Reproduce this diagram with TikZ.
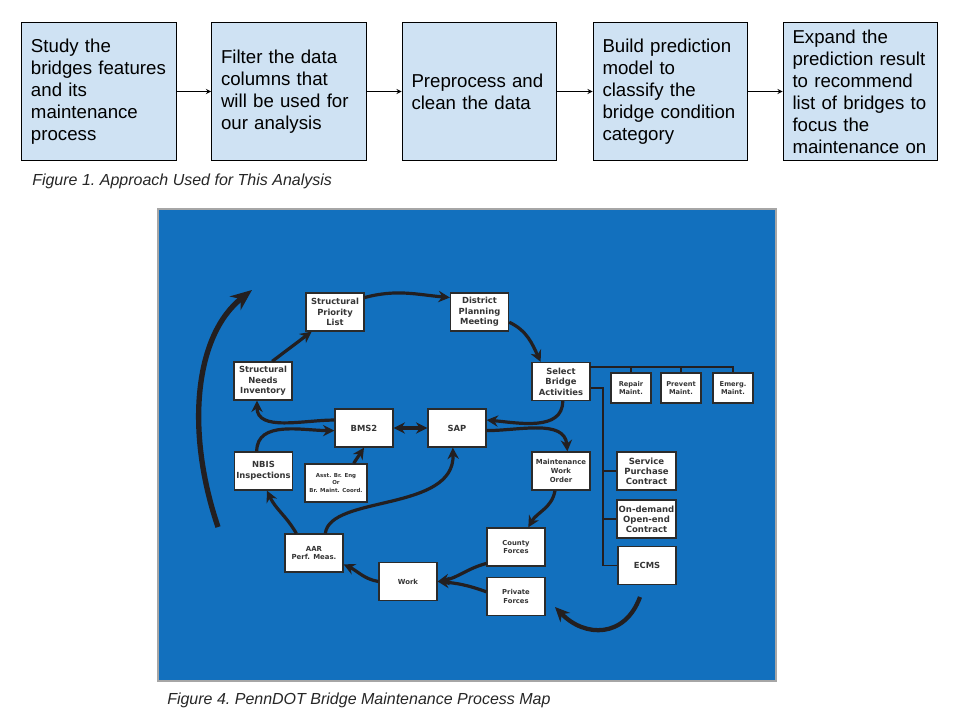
\documentclass[tikz,border=0pt]{standalone}
\usepackage{fontspec}
\setmainfont{Liberation Sans}
\newfontfamily\mapfont{DejaVu Sans}
\usepackage{tikz}
\usetikzlibrary{shapes.geometric, arrows, arrows.meta}
\definecolor{stageblue}{HTML}{CFE2F3}
\definecolor{panelblue}{HTML}{1270BE}
\definecolor{arrowink}{HTML}{231F20}
\definecolor{boxline}{HTML}{2B2B2B}
\definecolor{boxtext}{HTML}{353535}
\newcommand{\mapsize}[2]{\mapfont\bfseries\fontsize{#1}{#2}\selectfont}
\newcommand{\stagefont}{\fontsize{14}{16.5}\selectfont\hyphenpenalty=10000\relax}
\tikzstyle{stage} = [rectangle, draw=black, fill=stageblue, line width=0.8pt, minimum width=116pt, minimum height=103pt, text width=102pt, inner sep=0pt, align=left, font=\stagefont]
\tikzstyle{caption} = [anchor=west, inner sep=0pt, text=black!85, font=\itshape\fontsize{12}{14}\selectfont\frenchspacing]
\tikzstyle{mapbox} = [rectangle, draw=boxline, fill=white, line width=1pt, minimum width=43.5pt, minimum height=28.5pt, inner sep=1pt, align=center, text=boxtext, font=\mapsize{6.3}{7.9}]
\tikzstyle{smallbox} = [mapbox, minimum width=30pt, minimum height=22.5pt, font=\mapsize{5}{6.2}]
\tikzstyle{arrow} = [line width=0.75pt, ->, >=stealth]
\tikzstyle{flow} = [line width=2.4pt, draw=arrowink, ->, >={Stealth[length=8.5pt, width=8.5pt]}]
\tikzstyle{bigarrow} = [line width=4pt, draw=arrowink, ->, >={Stealth[length=16pt, width=13pt]}]
\tikzstyle{branch} = [line width=1.1pt, draw=arrowink]

\begin{document}
\begin{tikzpicture}[x=0.75pt, y=-0.75pt]
    \useasboundingbox (0,0) rectangle (960,720);
    % approach
    \node (study) [stage] at (99,91.5) {Study the\\bridges features\\and its\\maintenance\\process};
    \node (filter) [stage] at (289,91.5) {Filter the data\\columns that\\will be used for\\our analysis};
    \node (prep) [stage] at (479.5,91.5) {Preprocess and\\clean the data};
    \node (model) [stage] at (670.5,91.5) {Build prediction\\model to\\classify the\\bridge condition\\category};
    \node (expand) [stage] at (860.5,91.5) {Expand the\\prediction result\\to recommend\\list of bridges to\\focus the\\maintenance on};
    \draw [arrow] (study) -- (filter);
    \draw [arrow] (filter) -- (prep);
    \draw [arrow] (prep) -- (model);
    \draw [arrow] (model) -- (expand);
    \node (fig1) [caption] at (32,181) {Figure 1. Approach Used for This Analysis};

    % process map
    \draw [fill=panelblue, draw=gray!70, line width=0.8pt] (158,209) rectangle (776,681);
    \node (spl) [mapbox] at (335,312) {Structural\\Priority\\List};
    \node (dpm) [mapbox] at (479.5,312) {District\\Planning\\Meeting};
    \node (sni) [mapbox] at (263,381) {Structural\\Needs\\Inventory};
    \node (sba) [mapbox] at (561,381.5) {Select\\Bridge\\Activities};
    \node (rep) [smallbox] at (631,388) {Repair\\Maint.};
    \node (prev) [smallbox] at (681,388) {Prevent\\Maint.};
    \node (emer) [smallbox] at (733,388) {Emerg.\\Maint.};
    \node (bms) [mapbox] at (364,428) {BMS2};
    \node (sap) [mapbox] at (457,428) {SAP};
    \node (nbis) [mapbox] at (263.5,471) {NBIS\\Inspections};
    \node (asst) [mapbox, minimum width=46.5pt, font=\mapsize{4.1}{5.4}] at (336,483) {Asst. Br. Eng\\Or\\Br. Maint. Coord.};
    \node (mwo) [mapbox, font=\mapsize{5.2}{6.5}] at (561,471) {Maintenance\\Work\\Order};
    \node (spc) [mapbox, minimum width=44.25pt, font=\mapsize{6.4}{7.6}] at (646.5,471) {Service\\Purchase\\Contract};
    \node (ode) [mapbox, minimum width=44.25pt, font=\mapsize{6.4}{7.6}] at (646.5,519) {On-demand\\Open-end\\Contract};
    \node (ecms) [mapbox] at (647,565.5) {ECMS};
    \node (cty) [mapbox, font=\mapsize{5.1}{6.4}] at (516,547) {County\\Forces};
    \node (prv) [mapbox, font=\mapsize{5.1}{6.4}] at (516,596.5) {Private\\Forces};
    \node (aar) [mapbox, font=\mapsize{5.2}{6.4}] at (314,553) {AAR\\Perf. Meas.};
    \node (work) [mapbox, font=\mapsize{5.2}{6.4}] at (408,581.5) {Work};

    % activity branches
    \coordinate (bus) at (590,367);
    \coordinate (spine) at (603,388);
    \draw [branch] (bus) -| (emer.north);
    \draw [branch] (rep.north) -- (rep.north |- bus);
    \draw [branch] (prev.north) -- (prev.north |- bus);
    \draw [branch] (sba.east |- spine) -- (spine) -- (spine |- ecms.west) -- (ecms.west);
    \draw [branch] (spine |- spc.west) -- (spc.west);
    \draw [branch] (spine |- ode.west) -- (ode.west);

    % cycle
    \draw [flow] (sni.65) -- (spl.-140);
    \draw [flow] (spl.26) to[out=15,in=175] (dpm.154);
    \draw [flow] (dpm.-19) to[out=-25,in=115] (sba.136);
    \draw [flow] (sba.-85) to[out=-90,in=-5] (sap.15);
    \draw [flow] (sap.-5) to[out=0,in=95] (mwo.72);
    \draw [flow] (mwo.-107) to[out=-100,in=60] (cty.58);
    \draw [flow] (cty.-151) to[out=195,in=10] (work.east);
    \draw [flow] (prv.171) to[out=160,in=-5] (work.east);
    \draw [flow] (work.west) to[out=170,in=-25] (aar.-21);
    \draw [flow] (aar.132) to[out=120,in=-65] (nbis.-80);
    \draw [flow] (aar.60) .. controls (330,495) and (455,512) .. (sap.-102);
    \draw [flow] (nbis.109) to[out=90,in=180] (bms.-175);
    \draw [flow] (bms.165) to[out=180,in=-90] (sni.-107);
    \draw [flow, <->] (bms) -- (sap);
    \draw [flow] (asst.48) -- (bms.south);

    % outer loop arrows
    \coordinate (loopstart) at (218,527);
    \coordinate (loopend) at (252,290);
    \draw [bigarrow] (loopstart) .. controls (185,430) and (195,335) .. (loopend);
    \coordinate (ecmsstart) at (640,597);
    \coordinate (ecmsend) at (555,607);
    \draw [flow, line width=3.2pt, >={Stealth[length=11pt, width=10pt]}] (ecmsstart) .. controls (625,638) and (585,638) .. (ecmsend);

    \node (fig4) [caption] at (167,700) {Figure 4. PennDOT Bridge Maintenance Process Map};
\end{tikzpicture}
\end{document}
